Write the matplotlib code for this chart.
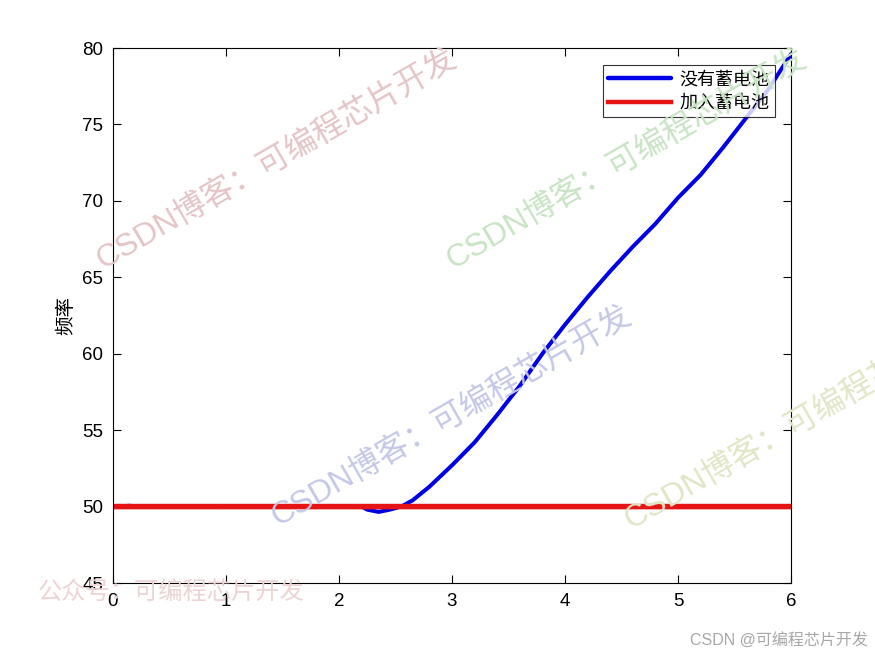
import matplotlib
matplotlib.use("Agg")
import matplotlib.pyplot as plt

# ---- data ----
t_no_battery = [0.0, 0.15, 0.2, 1.0, 1.05, 2.2, 2.25, 2.35, 2.45, 2.55, 2.65, 2.8, 3.0,
                3.2, 3.4, 3.6, 3.8, 4.0, 4.2, 4.4, 4.6, 4.8, 5.0, 5.2, 5.4, 5.6, 5.8, 6.0]
f_no_battery = [50.0, 50.05, 50.0, 49.97, 50.0, 50.0, 49.8, 49.65, 49.8, 50.0, 50.4, 51.3, 52.7,
                54.2, 56.0, 57.9, 60.0, 61.9, 63.7, 65.4, 67.0, 68.5, 70.2, 71.7, 73.5, 75.4, 77.3, 79.6]
t_battery = [0.0, 6.0]
f_battery = [50.0, 50.0]
series_labels = ["没有蓄电池", "加入蓄电池"]
x_ticks = [0, 1, 2, 3, 4, 5, 6]
y_ticks = [45, 50, 55, 60, 65, 70, 75, 80]
y_label = "频率"

W, H = 875, 656
fig = plt.figure(figsize=(W / 100, H / 100), dpi=100)
ax = fig.add_axes([113 / W, 1 - 583 / H, (791 - 113) / W, (583 - 48) / H])

ax.plot(t_no_battery, f_no_battery, color="#0000e6", lw=2.9, label=series_labels[0],
        solid_capstyle="round", snap=False)
ax.plot(t_battery, f_battery, color="#e61414", lw=4.0, label=series_labels[1], snap=False)

ax.set_xlim(0, 6)
ax.set_ylim(45, 80)
ax.set_xticks(x_ticks)
ax.set_yticks(y_ticks)
ax.tick_params(direction="in", top=True, right=True, length=6, width=0.8,
               labelsize=13.5, pad=7)
for lbl in ax.get_xticklabels() + ax.get_yticklabels():
    lbl.set_fontfamily("Liberation Sans")
for s in ax.spines.values():
    s.set_linewidth(0.8)
ax.set_ylabel(y_label, family=["Noto Sans CJK SC"], fontsize=14, labelpad=4)

leg = ax.legend(loc="upper right", bbox_to_anchor=(1 - (791 - 775) / (791 - 113), 1 - (65 - 48) / (583 - 48)),
                prop={"family": ["Noto Sans CJK SC"], "size": 13}, frameon=True, fancybox=False,
                borderpad=0.3, handlelength=3.45, labelspacing=0.3, handletextpad=0.5,
                borderaxespad=0)
leg.get_frame().set_edgecolor("black")
leg.get_frame().set_linewidth(0.8)
for line in leg.get_lines():
    line.set_linewidth(3.2)

wm_fam = ["Liberation Sans", "Noto Sans CJK SC"]
def wm(x, y, text, color, size, rot):
    fig.text(x / W, 1 - y / H, text, color=color, fontsize=size, rotation=rot,
             ha="center", va="center", rotation_mode="anchor", family=wm_fam, zorder=10)

wm(277, 160, "CSDN博客：可编程芯片开发", "#e4c4c6", 23, 30)
wm(627, 160, "CSDN博客：可编程芯片开发", "#c8e4c4", 23, 30)
wm(452, 417, "CSDN博客：可编程芯片开发", "#c4c8e6", 23, 30)
wm(805, 420, "CSDN博客：可编程芯片开发", "#e0e6c6", 23, 30)
fig.text(38 / W, 1 - 592 / H, "公众号：可编程芯片开发", color="#ecd4d4", fontsize=17.5,
         ha="left", va="center", family=wm_fam, zorder=10)
fig.text(868 / W, 1 - 640 / H, "CSDN @可编程芯片开发", color="#a8a8a8", fontsize=11.5,
         ha="right", va="center", family=wm_fam, zorder=10)

fig.savefig("out.png", dpi=100)
